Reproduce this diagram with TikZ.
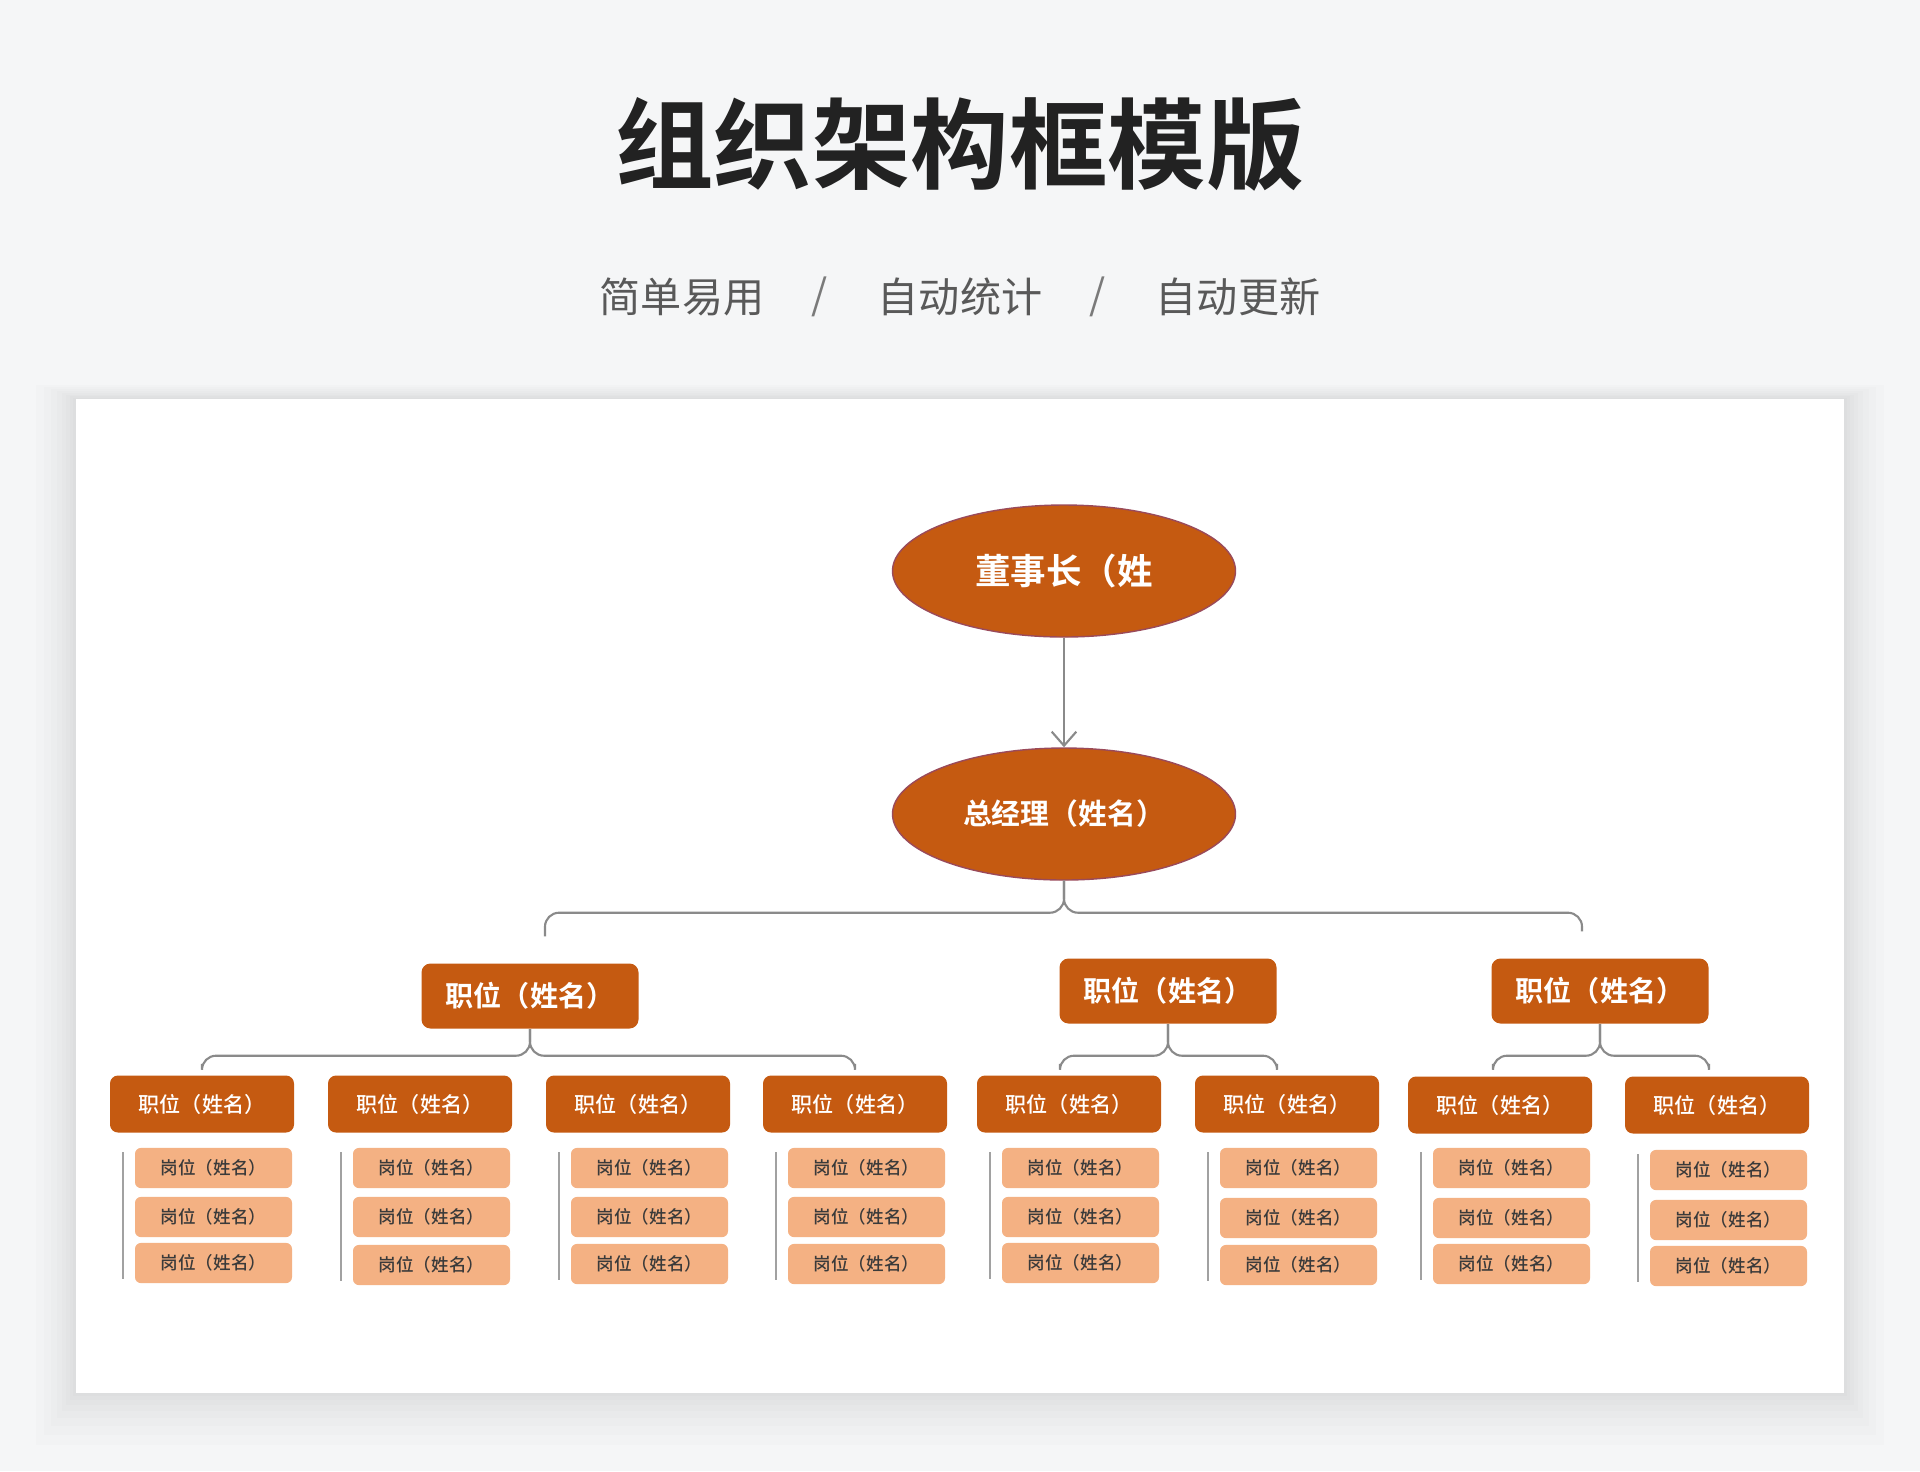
\documentclass[tikz,border=0pt]{standalone}
\usepackage{fontspec}
\setmainfont{Noto Sans CJK SC}[BoldFont={Noto Sans CJK SC Bold}]
\newfontfamily\midcjk{Noto Sans CJK SC Medium}
\usepackage{xcolor}
\definecolor{orgDark}{HTML}{C55A11}
\definecolor{orgLight}{HTML}{F4B183}
\definecolor{orgEdge}{HTML}{9A4A5A}
\definecolor{pageBg}{HTML}{F5F6F7}
\definecolor{linkGrey}{HTML}{8A8A8A}
\definecolor{titleInk}{HTML}{222222}
\definecolor{subInk}{HTML}{595959}
\definecolor{postInk}{HTML}{3A3A3A}
\usetikzlibrary{shapes.geometric,arrows.meta}

\tikzset{
  headOval/.style={ellipse, fill=orgDark, draw=orgEdge, line width=0.4pt, minimum width=3.43cm, minimum height=1.32cm, text=white, font=\bfseries},
  deptBox/.style={rectangle, rounded corners=0.09cm, fill=orgDark, minimum width=2.17cm, minimum height=0.65cm, text=white, font=\fontsize{8}{9}\selectfont\bfseries},
  teamBox/.style={rectangle, rounded corners=0.08cm, fill=orgDark, minimum width=1.84cm, minimum height=0.57cm, text=white, font=\midcjk\fontsize{6}{7}\selectfont},
  postBox/.style={rectangle, rounded corners=0.06cm, fill=orgLight, minimum width=1.57cm, minimum height=0.39cm, text=postInk, font=\midcjk\fontsize{5}{6}\selectfont},
  brace/.style={draw=linkGrey, line width=0.6pt, rounded corners=0.14cm},
  rule/.style={draw=linkGrey!80, line width=0.6pt},
  haze/.style={fill=black, opacity=0.012}
}

\begin{document}
\begin{tikzpicture}
  \useasboundingbox (0cm,0cm) rectangle (19.2cm,-14.71cm);
  \fill[pageBg] (0cm,0cm) rectangle (19.2cm,-14.71cm);
  % card and its soft shadow
  \fill[haze] (0.36cm,-3.85cm) rectangle (18.84cm,-14.45cm);
  \fill[haze] (0.44cm,-3.87cm) rectangle (18.76cm,-14.35cm);
  \fill[haze] (0.51cm,-3.89cm) rectangle (18.69cm,-14.26cm);
  \fill[haze] (0.57cm,-3.91cm) rectangle (18.63cm,-14.18cm);
  \fill[haze] (0.62cm,-3.93cm) rectangle (18.58cm,-14.11cm);
  \fill[haze] (0.66cm,-3.95cm) rectangle (18.54cm,-14.05cm);
  \fill[haze] (0.70cm,-3.96cm) rectangle (18.50cm,-14.00cm);
  \fill[haze] (0.73cm,-3.98cm) rectangle (18.47cm,-13.96cm);
  \fill[white] (0.76cm,-3.99cm) rectangle (18.44cm,-13.93cm);

  % heading
  \node[text=titleInk, font=\fontsize{28}{32}\selectfont\bfseries] (title) at (9.6cm,-1.44cm) {组织架构框模版};
  \node[text=subInk, font=\fontsize{11.7}{14}\selectfont] (tagA) at (6.82cm,-2.97cm) {简单易用};
  \node[text=subInk!80, font=\fontsize{11.7}{14}\selectfont] (slashA) at (8.2cm,-2.97cm) {/};
  \node[text=subInk, font=\fontsize{11.7}{14}\selectfont] (tagB) at (9.6cm,-2.97cm) {自动统计};
  \node[text=subInk!80, font=\fontsize{11.7}{14}\selectfont] (slashB) at (10.98cm,-2.97cm) {/};
  \node[text=subInk, font=\fontsize{11.7}{14}\selectfont] (tagC) at (12.38cm,-2.97cm) {自动更新};

  % top of the chart
  \node[headOval, font=\fontsize{10.1}{12}\selectfont\bfseries] (chair) at (10.64cm,-5.71cm) {董事长（姓};
  \node[headOval, font=\fontsize{8.2}{10}\selectfont\bfseries] (gm) at (10.64cm,-8.14cm) {总经理（姓名）};
  \draw[draw=linkGrey, line width=0.6pt, -{Straight Barb[length=4pt,width=7pt]}] (chair) -- (gm);

  % departments
  \node[deptBox] (deptA) at (5.30cm,-9.96cm) {职位（姓名）};
  \node[deptBox] (deptB) at (11.68cm,-9.91cm) {职位（姓名）};
  \node[deptBox] (deptC) at (16.00cm,-9.91cm) {职位（姓名）};
  \draw[brace] (gm.south) -- ++(0cm,-0.32cm) -| ([xshift=0.15cm,yshift=0.265cm]deptA.north);
  \draw[brace] (gm.south) -- ++(0cm,-0.32cm) -| ([xshift=-0.18cm,yshift=0.265cm]deptC.north);

  % teams
  \node[teamBox] (teamA) at (2.02cm,-11.04cm) {职位（姓名）};
  \node[teamBox] (teamB) at (4.20cm,-11.04cm) {职位（姓名）};
  \node[teamBox] (teamC) at (6.38cm,-11.04cm) {职位（姓名）};
  \node[teamBox] (teamD) at (8.55cm,-11.04cm) {职位（姓名）};
  \node[teamBox] (teamE) at (10.69cm,-11.04cm) {职位（姓名）};
  \node[teamBox] (teamF) at (12.87cm,-11.04cm) {职位（姓名）};
  \node[teamBox] (teamG) at (15.00cm,-11.05cm) {职位（姓名）};
  \node[teamBox] (teamH) at (17.17cm,-11.05cm) {职位（姓名）};
  \draw[brace] (deptA.south) -- ++(0cm,-0.265cm) -| ([yshift=0.11cm]teamA.north);
  \draw[brace] (deptA.south) -- ++(0cm,-0.265cm) -| ([yshift=0.11cm]teamD.north);
  \draw[brace] (deptB.south) -- ++(0cm,-0.315cm) -| ([xshift=-0.09cm,yshift=0.11cm]teamE.north);
  \draw[brace] (deptB.south) -- ++(0cm,-0.315cm) -| ([xshift=-0.10cm,yshift=0.11cm]teamF.north);
  \draw[brace] (deptC.south) -- ++(0cm,-0.315cm) -| ([xshift=-0.07cm,yshift=0.12cm]teamG.north);
  \draw[brace] (deptC.south) -- ++(0cm,-0.315cm) -| ([xshift=-0.08cm,yshift=0.12cm]teamH.north);

  % posts under each team
  \node[postBox] (postA1) at (2.135cm,-11.68cm) {岗位（姓名）};
  \node[postBox] (postA2) at (2.135cm,-12.17cm) {岗位（姓名）};
  \node[postBox] (postA3) at (2.135cm,-12.63cm) {岗位（姓名）};
  \node[postBox] (postB1) at (4.315cm,-11.68cm) {岗位（姓名）};
  \node[postBox] (postB2) at (4.315cm,-12.17cm) {岗位（姓名）};
  \node[postBox] (postB3) at (4.315cm,-12.65cm) {岗位（姓名）};
  \node[postBox] (postC1) at (6.495cm,-11.68cm) {岗位（姓名）};
  \node[postBox] (postC2) at (6.495cm,-12.17cm) {岗位（姓名）};
  \node[postBox] (postC3) at (6.495cm,-12.64cm) {岗位（姓名）};
  \node[postBox] (postD1) at (8.665cm,-11.68cm) {岗位（姓名）};
  \node[postBox] (postD2) at (8.665cm,-12.17cm) {岗位（姓名）};
  \node[postBox] (postD3) at (8.665cm,-12.64cm) {岗位（姓名）};
  \node[postBox] (postE1) at (10.805cm,-11.68cm) {岗位（姓名）};
  \node[postBox] (postE2) at (10.805cm,-12.17cm) {岗位（姓名）};
  \node[postBox] (postE3) at (10.805cm,-12.63cm) {岗位（姓名）};
  \node[postBox] (postF1) at (12.985cm,-11.68cm) {岗位（姓名）};
  \node[postBox] (postF2) at (12.985cm,-12.18cm) {岗位（姓名）};
  \node[postBox] (postF3) at (12.985cm,-12.65cm) {岗位（姓名）};
  \node[postBox] (postG1) at (15.115cm,-11.68cm) {岗位（姓名）};
  \node[postBox] (postG2) at (15.115cm,-12.18cm) {岗位（姓名）};
  \node[postBox] (postG3) at (15.115cm,-12.64cm) {岗位（姓名）};
  \node[postBox] (postH1) at (17.285cm,-11.70cm) {岗位（姓名）};
  \node[postBox] (postH2) at (17.285cm,-12.20cm) {岗位（姓名）};
  \node[postBox] (postH3) at (17.285cm,-12.66cm) {岗位（姓名）};
  \draw[rule] ([xshift=-0.11cm,yshift=-0.05cm]postA1.north west) -- ([xshift=-0.11cm,yshift=0.05cm]postA3.south west);
  \draw[rule] ([xshift=-0.11cm,yshift=-0.05cm]postB1.north west) -- ([xshift=-0.11cm,yshift=0.05cm]postB3.south west);
  \draw[rule] ([xshift=-0.11cm,yshift=-0.05cm]postC1.north west) -- ([xshift=-0.11cm,yshift=0.05cm]postC3.south west);
  \draw[rule] ([xshift=-0.11cm,yshift=-0.05cm]postD1.north west) -- ([xshift=-0.11cm,yshift=0.05cm]postD3.south west);
  \draw[rule] ([xshift=-0.11cm,yshift=-0.05cm]postE1.north west) -- ([xshift=-0.11cm,yshift=0.05cm]postE3.south west);
  \draw[rule] ([xshift=-0.11cm,yshift=-0.05cm]postF1.north west) -- ([xshift=-0.11cm,yshift=0.05cm]postF3.south west);
  \draw[rule] ([xshift=-0.11cm,yshift=-0.05cm]postG1.north west) -- ([xshift=-0.11cm,yshift=0.05cm]postG3.south west);
  \draw[rule] ([xshift=-0.11cm,yshift=-0.05cm]postH1.north west) -- ([xshift=-0.11cm,yshift=0.05cm]postH3.south west);
\end{tikzpicture}
\end{document}
